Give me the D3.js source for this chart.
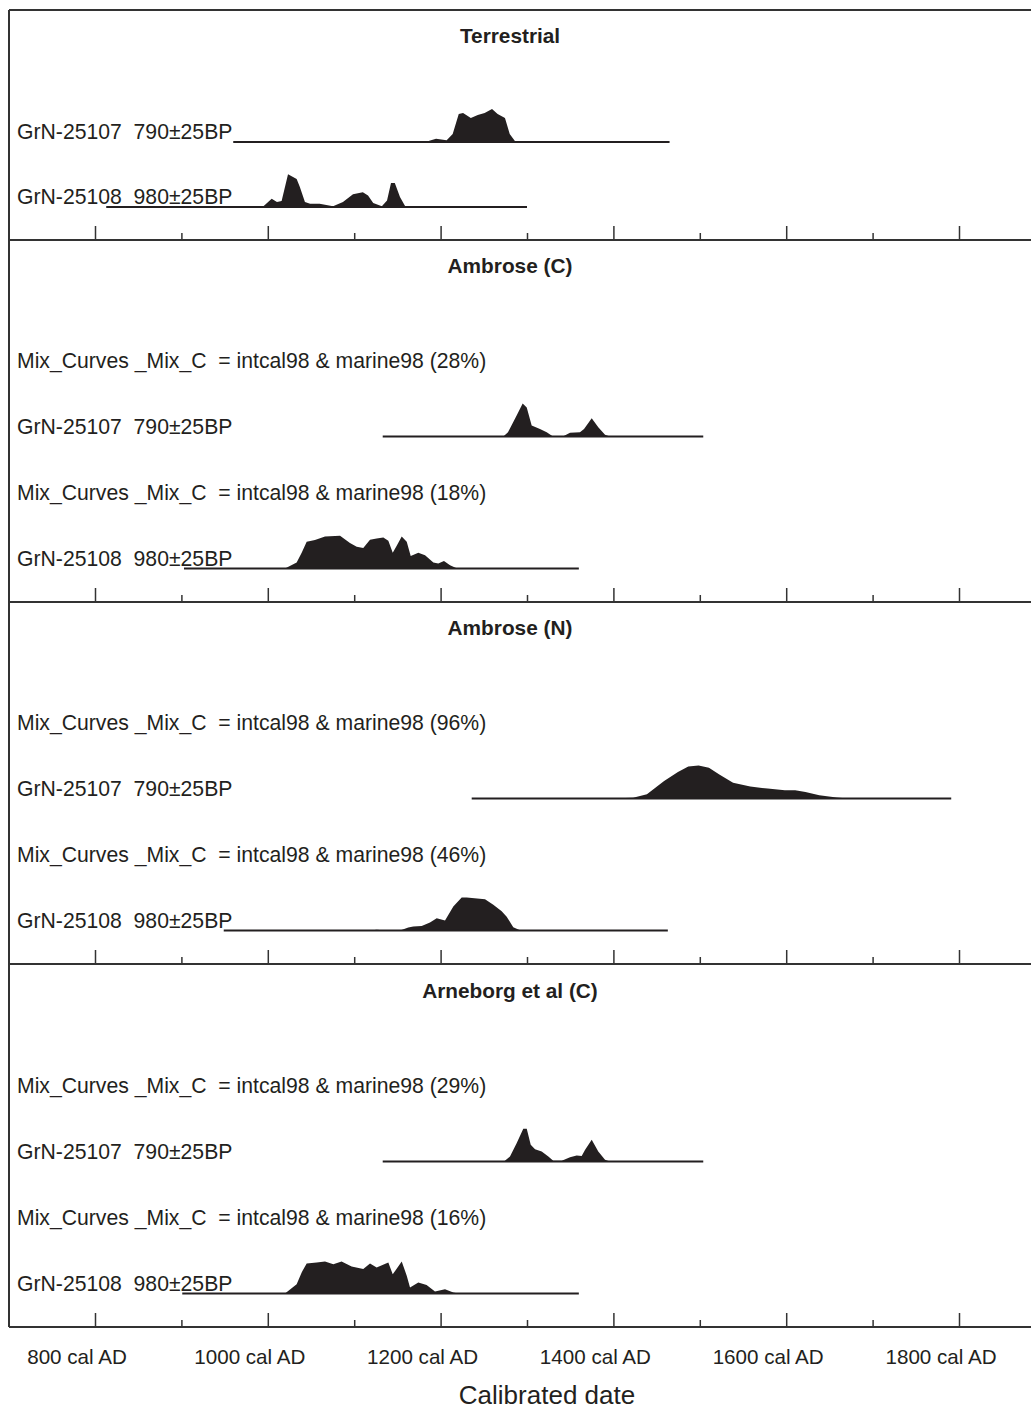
<!DOCTYPE html>
<html>
<head>
<meta charset="utf-8">
<script src="https://cdn.jsdelivr.net/npm/d3@7"></script>
<style>
body { margin: 0; background: #fff; }
svg { font-family: "Liberation Sans", Arial, sans-serif; }
.lab { white-space: pre; }
</style>
</head>
<body>
<div class="chart"></div>
<script>
var width = 1031,
	height = 1409;

// calendar axis
var tickYears = [800, 900, 1000, 1100, 1200, 1300, 1400, 1500, 1600, 1700, 1800];
var labelYears = [800, 1000, 1200, 1400, 1600, 1800];
var tickLabels = ["800 cal AD", "1000 cal AD", "1200 cal AD", "1400 cal AD", "1600 cal AD", "1800 cal AD"];

var panelTitles = ["Terrestrial", "Ambrose (C)", "Ambrose (N)", "Arneborg et al (C)"];
var sampleLabels = ["GrN-25107  790\u00b125BP", "GrN-25108  980\u00b125BP"];
var mixLabel = "Mix_Curves _Mix_C  = intcal98 & marine98 ";
var mixPercents = [null, ["28%", "18%"], ["96%", "46%"], ["29%", "16%"]];

// ranges of the baseline for each sample [start, end] cal AD
var ranges107 = [[960, 1465], [1133, 1504], [1236, 1791], [1133, 1504]];
var ranges108 = [[813, 1300], [903, 1360], [949, 1463], [901, 1360]];

// relative probability distributions [year, p]
var terr107 = [[1153,0],[1164.6,0.02],[1176,0.01],[1186,0.03],[1194.7,0.10],[1207,0.05],[1214,0.24],[1221,0.85],[1226,0.88],[1235,0.73],[1243,0.82],[1251,0.88],[1259.5,1.0],[1266,0.85],[1274.5,0.73],[1280,0.24],[1286,0.03],[1292,0]];
var terr108 = [[994,0],[1004.5,0.25],[1010.6,0.15],[1016,0.18],[1023.4,0.99],[1033.4,0.85],[1037,0.61],[1043,0.15],[1049,0.10],[1060,0.10],[1075.5,0.02],[1087,0.15],[1098.6,0.39],[1110,0.45],[1116,0.35],[1122,0.12],[1132,0.02],[1138,0.20],[1142.6,0.73],[1147,0.73],[1153,0.30],[1159,0.02],[1162,0]];
var ambC107 = [[1272.6,0],[1278,0.13],[1288,0.64],[1295,1.0],[1299.7,0.88],[1305.4,0.33],[1315,0.23],[1322.8,0.13],[1329.7,0.01],[1342,0.01],[1349.8,0.11],[1361.3,0.13],[1366,0.23],[1374.9,0.55],[1382.5,0.28],[1390.3,0.05],[1396,0]];
var ambC108 = [[1019.9,0],[1033.4,0.18],[1039.2,0.48],[1045,0.81],[1054.6,0.86],[1066.2,0.97],[1083.6,0.99],[1095.1,0.77],[1102.9,0.66],[1110.5,0.62],[1118.3,0.87],[1126,0.91],[1133.7,0.94],[1139.5,0.84],[1144.6,0.48],[1149.2,0.69],[1155,0.97],[1160.8,0.81],[1165.4,0.38],[1174.2,0.48],[1182,0.40],[1191.6,0.18],[1197.3,0.15],[1203.9,0.23],[1210.9,0.10],[1218.6,0.01],[1224.4,0]];
var ambN107 = [[1396,0],[1422.8,0.02],[1438.8,0.13],[1458.7,0.53],[1474.7,0.80],[1486.7,0.97],[1498.6,1.0],[1510.6,0.93],[1522.6,0.73],[1538.5,0.48],[1558.4,0.36],[1578.5,0.30],[1598.4,0.25],[1610.4,0.25],[1622.3,0.20],[1638.3,0.10],[1658.3,0.03],[1671.5,0]];
var ambN108 = [[1118,0],[1126,0.02],[1137.6,0],[1153,0],[1162.6,0.09],[1168.4,0.12],[1178.1,0.14],[1187.7,0.24],[1195.5,0.37],[1205.1,0.30],[1214.7,0.73],[1224.4,1.0],[1230.2,1.0],[1251.4,0.95],[1261,0.78],[1270.7,0.58],[1276.5,0.42],[1284.1,0.10],[1291.9,0.01],[1297.7,0]];
var arnC107 = [[1273.4,0],[1280.3,0.15],[1288,0.55],[1295.7,0.99],[1299.7,0.99],[1304.3,0.51],[1309.3,0.37],[1317,0.30],[1324.7,0.15],[1330.4,0.02],[1340.2,0.02],[1349.8,0.13],[1357.5,0.18],[1363.3,0.17],[1367.1,0.35],[1374.9,0.66],[1382.5,0.30],[1390.3,0.05],[1396,0]];
var arnC108 = [[1019.9,0],[1033.4,0.28],[1039.2,0.64],[1045,0.91],[1056.6,0.94],[1066.2,0.97],[1075.8,0.89],[1085.4,0.97],[1097,0.82],[1110.5,0.74],[1118.3,0.91],[1126,0.79],[1139.5,0.94],[1144.6,0.58],[1155,0.97],[1160.8,0.54],[1164.6,0.18],[1174.2,0.33],[1183.8,0.26],[1193.5,0.06],[1205.1,0.13],[1214.7,0.03],[1220.5,0]];

var dists107 = [terr107, ambC107, ambN107, arnC107];
var dists108 = [terr108, ambC108, ambN108, arnC108];

var svg = d3.select(".chart").append("svg").attr("width", width).attr("height", height);
var x = d3.scaleLinear().domain([800, 1800]).range([95, 959]);
var h = d3.scaleLinear().domain([0, 1]).range([0, 33]);

var panelBottom = [240, 602, 964, 1327];
var ink = "#231f20";
var labSize = 21.2;

// left frame and top line
svg.append("line").attr("x1", 9).attr("x2", 9).attr("y1", 10).attr("y2", 1327)
	.attr("stroke", "#333").attr("stroke-width", 2);
svg.append("line").attr("x1", 9).attr("x2", width).attr("y1", 10).attr("y2", 10)
	.attr("stroke", "#333").attr("stroke-width", 2);

function drawSample(base, label, range, dist){
	var area = d3.area()
		.x(function(d){ return x(d[0]); })
		.y0(base)
		.y1(function(d){ return base - h(d[1]); });
	svg.append("path").datum(dist).attr("d", area).attr("fill", ink);
	svg.append("line").attr("x1", x(range[0])).attr("x2", x(range[1]))
		.attr("y1", base).attr("y2", base).attr("stroke", ink).attr("stroke-width", 2);
	svg.append("text").attr("class", "lab").attr("x", 17).attr("y", base - 3)
		.attr("font-size", labSize).attr("fill", ink).text(label);
}

panelTitles.forEach(function(title, i){
	var b = panelBottom[i];
	var first = (i == 0);
	svg.append("text").attr("x", 510).attr("y", first ? b - 197 : b - 329)
		.attr("text-anchor", "middle").attr("font-weight", "bold").attr("font-size", 20.8)
		.attr("fill", ink).text(title);
	if(first){
		drawSample(b - 98, sampleLabels[0], ranges107[i], dists107[i]);
		drawSample(b - 33, sampleLabels[1], ranges108[i], dists108[i]);
	} else {
		svg.append("text").attr("class", "lab").attr("x", 17).attr("y", b - 234)
			.attr("font-size", labSize).attr("fill", ink).text(mixLabel + "(" + mixPercents[i][0] + ")");
		drawSample(b - 165.5, sampleLabels[0], ranges107[i], dists107[i]);
		svg.append("text").attr("class", "lab").attr("x", 17).attr("y", b - 102)
			.attr("font-size", labSize).attr("fill", ink).text(mixLabel + "(" + mixPercents[i][1] + ")");
		drawSample(b - 33.5, sampleLabels[1], ranges108[i], dists108[i]);
	}
	// axis at bottom of each panel, ticks pointing up
	var ax = svg.append("g").attr("transform", "translate(0," + b + ")")
		.call(d3.axisTop(x).tickValues(tickYears).tickSize(14).tickFormat(""));
	ax.select(".domain").remove();
	ax.selectAll(".tick line").attr("stroke", "#333").attr("stroke-width", 1.5)
		.attr("y2", function(d){ return labelYears.indexOf(d) >= 0 ? -14 : -7; });
	svg.append("line").attr("x1", 9).attr("x2", width).attr("y1", b).attr("y2", b)
		.attr("stroke", "#333").attr("stroke-width", 2);
});

// tick labels under the last panel
svg.selectAll(".ticklab").data(labelYears).enter().append("text")
	.attr("class", "ticklab")
	.attr("x", function(d){ return x(d) - 18; })
	.attr("y", 1364)
	.attr("text-anchor", "middle").attr("font-size", 20.6).attr("fill", ink)
	.text(function(d, i){ return tickLabels[i]; });

svg.append("text").attr("x", 547).attr("y", 1404).attr("text-anchor", "middle")
	.attr("font-size", 26).attr("fill", ink).text("Calibrated date");
</script>
</body>
</html>
